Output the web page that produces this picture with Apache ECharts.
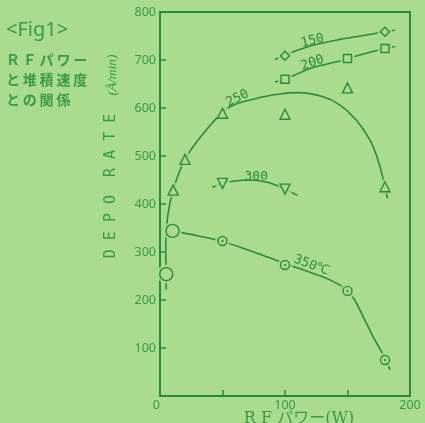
<!DOCTYPE html>
<html>
<head>
<meta charset="utf-8">
<script src="https://cdn.jsdelivr.net/npm/echarts@6/dist/echarts.min.js"></script>
<style>
  html, body { margin: 0; padding: 0; background: #a9dc8f; }
  #main { width: 425px; height: 423px; }
</style>
</head>
<body>
<div id="main"></div>
<script>
// tick labels
var xTickLabels = [0, 100, 200]
var yTickLabels = [100, 200, 300, 400, 500, 600, 700, 800]

// measured points  [RF power (W), depo rate (Å/min)]
var pts150 = [[100, 709], [180, 759]]
var pts200 = [[100, 660], [150, 703], [180, 724]]
var pts250 = [[10.5, 429], [20, 493], [50, 589], [100, 587], [150, 642], [180, 436]]
var pts300 = [[50, 443], [100, 431]]
var pts350 = [[50, 323], [100, 273], [150, 219], [180, 75]]
var ptsBig = [[10, 344], [5, 254]]

// hand drawn fit curves
var curve150 = [[92, 701], [100, 710], [120, 729], [144, 743], [165, 752], [180, 759], [188, 762]]
var curve200 = [[92, 654], [100, 660], [122, 684], [144, 698], [150, 703], [165, 714], [180, 724], [188, 728]]
var curve250 = [[5, 222], [5, 254], [4.6, 300], [5, 340], [6.5, 380], [10.5, 429], [20, 493], [37, 554], [55, 601],
  [77, 620], [96, 629], [110, 632], [130, 624], [144, 606], [157, 575], [168, 533], [174, 495], [178, 458], [180, 436], [182, 412]]
var curve300 = [[42, 435], [50, 443], [60, 448], [72, 450], [85, 446], [96, 436], [100, 431], [110, 418]]
var curve350 = [[10, 344], [30, 334], [50, 322], [75, 300], [100, 276], [120, 258], [135, 243], [148, 224],
  [155, 203], [162, 168], [170, 126], [178, 89], [181, 75], [184, 54]]

var BG = '#a9dc8f'
var LINE = '#2c8a3e'
var TEXT = '#3a9a4a'

var chart = echarts.init(document.getElementById('main'))

function curve(d) {
  return {
    type: 'line', data: d, smooth: 0.35, symbol: 'none', z: 2,
    lineStyle: { color: LINE, width: 1.6 }
  }
}
function marks(d, symbol, size, rot) {
  return {
    type: 'scatter', data: d, symbol: symbol, symbolSize: size, symbolRotate: rot || 0, z: 4,
    itemStyle: { color: BG, borderColor: LINE, borderWidth: 1.4, opacity: 1 }
  }
}

var halo = pts150.concat(pts200, pts250, pts300, pts350)

var option = {
  backgroundColor: BG,
  animation: false,
  grid: {
    left: 160, right: 15, top: 12, bottom: 27,
    show: true, borderColor: LINE, borderWidth: 2
  },
  xAxis: {
    type: 'value', min: 0, max: 200, interval: 50,
    axisLine: { lineStyle: { color: LINE, width: 2 } },
    axisTick: { inside: true, length: 6, lineStyle: { color: LINE, width: 1.5 } },
    splitLine: { show: false },
    axisLabel: {
      color: TEXT, fontSize: 12.5, fontFamily: 'Noto Sans', margin: 3,
      alignMinLabel: 'right',
      formatter: function (v) { return xTickLabels.indexOf(v) >= 0 ? String(v) : '' }
    }
  },
  yAxis: {
    type: 'value', min: 0, max: 800, interval: 100,
    axisLine: { lineStyle: { color: LINE, width: 2 } },
    axisTick: { inside: true, length: 6, lineStyle: { color: LINE, width: 1.5 } },
    splitLine: { show: false },
    axisLabel: {
      color: TEXT, fontSize: 12.5, fontFamily: 'Noto Sans', margin: 4,
      formatter: function (v) { return yTickLabels.indexOf(v) >= 0 ? String(v) : '' }
    }
  },
  series: [
    curve(curve150), curve(curve200), curve(curve250), curve(curve300), curve(curve350),
    {
      type: 'scatter', data: halo, symbol: 'circle', symbolSize: 15, z: 3,
      itemStyle: { color: BG }
    },
    {
      type: 'scatter', data: ptsBig, symbol: 'circle', symbolSize: 19, z: 3,
      itemStyle: { color: BG }
    },
    marks(pts150, 'diamond', 9),
    marks(pts200, 'rect', 8),
    marks(pts250, 'triangle', 10),
    marks(pts300, 'triangle', 10, 180),
    marks(pts350, 'circle', 9),
    {
      type: 'scatter', data: pts350, symbol: 'circle', symbolSize: 2.5, z: 5,
      itemStyle: { color: LINE }
    },
    marks(ptsBig, 'circle', 13)
  ]
}
chart.setOption(option)

// curve names, anchored in data coords
var curveNames = [
  { text: '150', at: [122, 740], rot: 14 },
  { text: '200', at: [122, 694], rot: 19 },
  { text: '250', at: [62, 620], rot: 26 },
  { text: '300', at: [77, 457], rot: 0 },
  { text: '350℃', at: [121, 272], rot: -21 }
]

var g = [
  { type: 'text', x: 6, y: 30, style: { text: '<Fig1>', fill: TEXT, font: '20px "Noto Sans"', textVerticalAlign: 'middle', verticalAlign: 'middle' } },
  { type: 'text', x: 6, y: 60, style: { text: 'Ｒ\u2009Ｆ\u2009パ\u2009ワ\u2009ー', fill: TEXT, font: 'bold 14px "Noto Sans CJK JP"', textVerticalAlign: 'middle', verticalAlign: 'middle' } },
  { type: 'text', x: 6, y: 80, style: { text: 'と\u2009堆\u2009積\u2009速\u2009度', fill: TEXT, font: 'bold 14px "Noto Sans CJK JP"', textVerticalAlign: 'middle', verticalAlign: 'middle' } },
  { type: 'text', x: 6, y: 100, style: { text: 'と\u2009の\u2009関\u2009係', fill: TEXT, font: 'bold 14px "Noto Sans CJK JP"', textVerticalAlign: 'middle', verticalAlign: 'middle' } },
  { type: 'text', x: 111, y: 186, rotation: Math.PI / 2, style: { text: 'D E P O  R A T E', fill: TEXT, font: '15px "DejaVu Sans Mono"', textAlign: 'center', align: 'center', textVerticalAlign: 'middle', verticalAlign: 'middle' } },
  { type: 'text', x: 112, y: 75, rotation: Math.PI / 2, style: { text: '(Å/min)', fill: TEXT, font: 'italic 13.5px "Liberation Serif"', textAlign: 'center', align: 'center', textVerticalAlign: 'middle', verticalAlign: 'middle' } },
  { type: 'text', x: 299, y: 419, style: { text: 'R F パワー(W)', fill: TEXT, font: '16px "DejaVu Serif", "Noto Sans CJK JP"', textAlign: 'center', align: 'center', textVerticalAlign: 'middle', verticalAlign: 'middle' } }
]
curveNames.forEach(function (c) {
  var p = chart.convertToPixel({ gridIndex: 0 }, c.at)
  g.push({
    type: 'text', x: p[0], y: p[1], rotation: c.rot * Math.PI / 180,
    style: { text: c.text, fill: LINE, font: '13px "DejaVu Sans Mono"', textAlign: 'center', align: 'center', textVerticalAlign: 'middle', verticalAlign: 'middle' }
  })
})
chart.setOption({ graphic: g })
</script>
</body>
</html>
